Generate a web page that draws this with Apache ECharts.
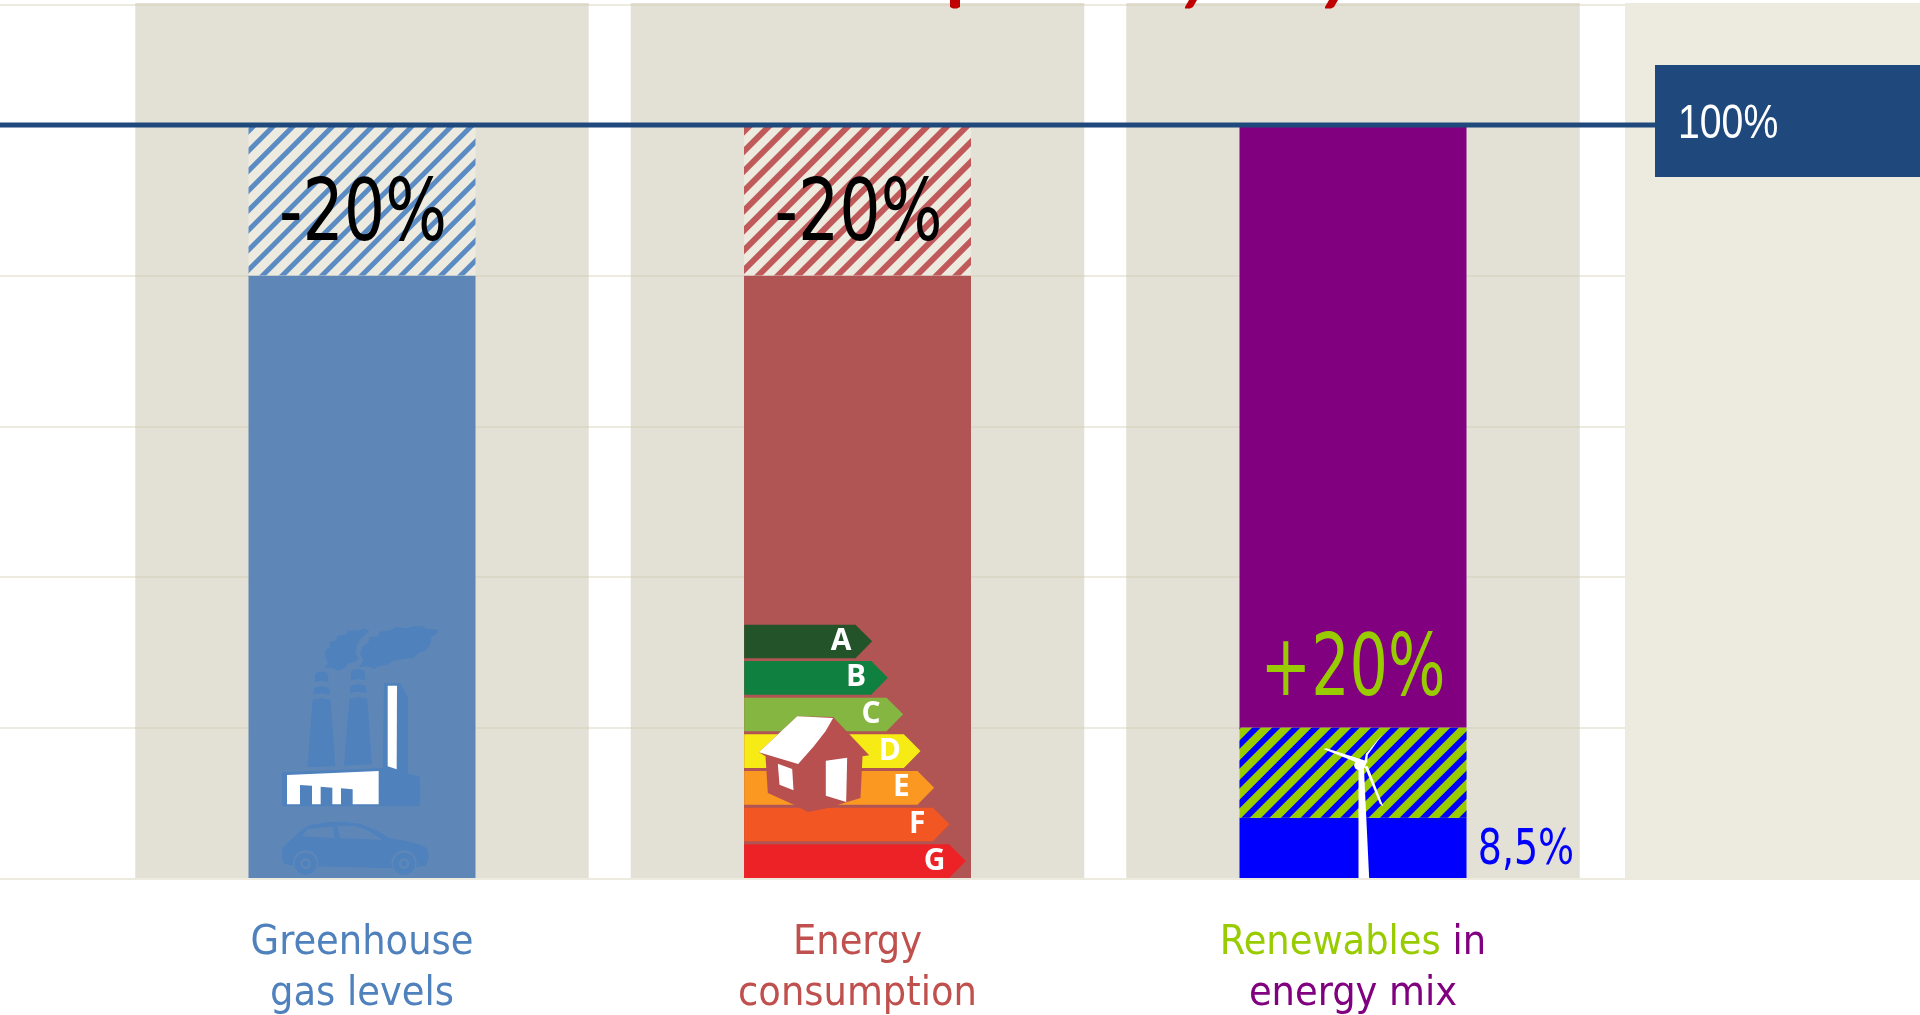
<!DOCTYPE html>
<html>
<head>
<meta charset="utf-8">
<style>html,body{margin:0;padding:0;background:#fff;overflow:hidden}#c{width:1920px;height:1015px}</style>
<script src="https://cdn.jsdelivr.net/npm/echarts@6/dist/echarts.min.js"></script>
</head>
<body>
<div id="c"></div>
<script>
const categories = ['Greenhouse gas levels', 'Energy consumption', 'Renewables in energy mix'];
const categoryText = ['{b|Greenhouse}\n{b|gas levels}', '{r|Energy}\n{r|consumption}', '{g|Renewables}{p| in}\n{p|energy mix}'];
const solidValues = [80, 80, 8];
const hatchValues = [20, 20, 12];
const topValues = [null, null, 80];
const solidLabels = ['', '', '8,5%'];
const hatchLabels = ['-20%', '-20%', ''];
const topLabels = ['', '', '+20%'];
const targetLine = [100, 100];
const targetLabel = '100%';
const energyClasses = ['A', 'B', 'C', 'D', 'E', 'F', 'G'];
const energyColors = ['#235329', '#0F8040', '#86B642', '#F6EB14', '#FB9822', '#F15623', '#ED2227'];

const BLUE = '#5E87B8', RED = '#B05454', PURE = '#0000FF', PURPLE = '#800080', LIME = '#99CC00';
const ICON_BLUE = '#4F81BD', HOUSE = '#B8504F', LIGHT = '#EDEADF', NAVY = '#1F497D';
const HUMAN = '"DejaVu Sans Condensed","DejaVu Sans",sans-serif';

function hatch(stripe, base, on, off) {
  return { color: base, decal: { symbol: 'rect', symbolSize: 1, dashArrayX: [1, 0], dashArrayY: [on, off], rotation: -Math.PI / 4, color: stripe } };
}
const hatchStyles = [hatch('#5B8BC3', LIGHT, 4.5, 9), hatch('#C0595A', LIGHT, 6, 7.5), hatch(PURE, LIME, 5.5, 8)];
const solidColors = [BLUE, RED, PURE];

const chart = echarts.init(document.getElementById('c'), null, { renderer: 'canvas' });
const bottom = 136.7, pxPerUnit = 7.533;
const labelRich = c => ({ color: c, fontFamily: HUMAN, fontSize: 41, lineHeight: 51 });

chart.setOption({
  animation: false,
  backgroundColor: '#fff',
  grid: [
    { left: 0, width: 1655, top: 5, bottom: bottom },
    { left: 114.25, width: 1486.5, top: 3, bottom: bottom }
  ],
  xAxis: [
    { type: 'category', gridIndex: 0, data: ['start', 'end'], boundaryGap: false, show: false },
    { type: 'category', gridIndex: 1, data: categories, show: false },
    { type: 'category', gridIndex: 1, data: categories, position: 'bottom',
      axisLine: { show: false }, axisTick: { show: false },
      axisLabel: {
        interval: 0, margin: 40,
        formatter: (v, i) => categoryText[i],
        rich: { b: labelRich('#4F81BD'), r: labelRich('#C0504D'), g: labelRich(LIME), p: labelRich(PURPLE) }
      } }
  ],
  yAxis: [
    { type: 'value', gridIndex: 0, min: 0, max: (878.3 - 5) / pxPerUnit, interval: 20,
      axisLine: { show: false }, axisTick: { show: false }, axisLabel: { show: false },
      splitLine: { show: true, lineStyle: { color: LIGHT, width: 2 } } },
    { type: 'value', gridIndex: 1, min: 0, max: (878.3 - 3) / pxPerUnit, interval: 20, show: false, splitLine: { show: false } }
  ],
  series: [
    { type: 'bar', xAxisIndex: 1, yAxisIndex: 1, z: 1, barWidth: 453.5, silent: true,
      data: categories.map(() => (878.3 - 3) / pxPerUnit),
      itemStyle: { color: 'rgba(204,200,179,0.55)' } },
    { type: 'bar', xAxisIndex: 2, yAxisIndex: 1, z: 2, stack: 's', barWidth: 227,
      data: solidValues.map((v, i) => ({ value: v, itemStyle: { color: solidColors[i] } })) },
    { type: 'bar', xAxisIndex: 2, yAxisIndex: 1, z: 2, stack: 's', barWidth: 227,
      data: hatchValues.map((v, i) => ({ value: v, itemStyle: hatchStyles[i] })) },
    { type: 'bar', xAxisIndex: 2, yAxisIndex: 1, z: 2, stack: 's', barWidth: 227,
      data: topValues, itemStyle: { color: PURPLE } },
    { type: 'line', xAxisIndex: 0, yAxisIndex: 0, z: 5, symbol: 'none', data: targetLine,
      lineStyle: { color: NAVY, width: 5 } }
  ]
});

function pts(s) {
  const n = s.trim().split(/\s+/).map(Number), out = [];
  for (let i = 0; i < n.length; i += 2) out.push([n[i], n[i + 1]]);
  return out;
}
const poly = (s, fill) => ({ type: 'polygon', z: 10, shape: { points: pts(s) }, style: { fill } });
const circ = (cx, cy, r, fill) => ({ type: 'circle', z: 10, shape: { cx, cy, r }, style: { fill } });
const anchor = (i, v) => chart.convertToPixel({ xAxisIndex: 2, yAxisIndex: 1 }, [i, v || 0]);

const [c1, base] = anchor(0), [c2] = anchor(1), [c3] = anchor(2);

function valueText(text, x, y, size, fill, sx) {
  return { type: 'text', z: 12, x, y, scaleX: sx, style: { text, fill, align: 'center', verticalAlign: 'middle', font: size + 'px ' + HUMAN } };
}
const valueTexts = [];
hatchLabels.forEach((t, i) => {
  if (!t) return;
  const [x, y] = anchor(i, solidValues[i] + hatchValues[i] / 2);
  valueTexts.push(valueText(t, x + 1, y + 18, 85, '#000', 0.85));
});
topLabels.forEach((t, i) => {
  if (!t) return;
  const [x, y] = anchor(i, solidValues[i] + hatchValues[i]);
  valueTexts.push(valueText(t, x, y - 54, 85, LIME, 0.79));
});
solidLabels.forEach((t, i) => {
  if (!t) return;
  const [x, y] = anchor(i, solidValues[i] / 2);
  valueTexts.push(valueText(t, x + 173, y + 3, 49, PURE, 0.86));
});

const [lineEndX, lineY] = chart.convertToPixel({ xAxisIndex: 0, yAxisIndex: 0 }, [1, targetLine[1]]);
const targetBox = [
  { type: 'rect', z: 6, shape: { x: lineEndX, y: lineY - 60, width: 1920 - lineEndX, height: 112 }, style: { fill: NAVY } },
  { type: 'text', z: 7, x: lineEndX + 23, y: lineY - 1, scaleX: 0.8, style: { text: targetLabel, fill: '#fff', align: 'left', verticalAlign: 'middle', font: '49px "Liberation Sans",sans-serif' } }
];

const factory = { type: 'group', x: c1 - 132, y: base - 278.3, scaleX: 1 / 3, scaleY: 1 / 3, children: [
  poly('282 205 294 188 284 170 287 150 300 145 298 128 318 122 322 108 348 104 352 93 390 92 400 86 418 94 402 108 390 118 380 140 378 160 386 178 372 188 352 192 344 206 325 213 306 204', ICON_BLUE),
  poly('388 202 400 182 390 162 396 142 414 130 420 112 444 110 450 96 480 92 500 82 530 86 550 80 575 80 592 88 625 90 620 102 604 112 602 132 590 150 565 160 550 175 520 178 490 183 470 196 445 200 432 208 415 200', ICON_BLUE),
  poly('254 248 256 222 265 216 285 216 294 222 296 248 275 243', ICON_BLUE),
  poly('250 285 252 265 275 260 298 265 300 285 275 281', ICON_BLUE),
  poly('232 503 248 300 275 295 302 300 316 500', ICON_BLUE),
  poly('362 242 364 215 374 209 394 209 404 215 406 242 385 238', ICON_BLUE),
  poly('360 280 361 258 385 254 408 258 410 280 385 276', ICON_BLUE),
  poly('342 498 358 297 385 291 412 297 426 494', ICON_BLUE),
  poly('462 250 510 250 534 295 534 522 570 532 570 620 156 620 156 518 458 505', ICON_BLUE),
  poly('171 526 446 514 446 614 368 614 368 569 333 566 333 614 307 614 307 564 272 561 272 614 246 614 246 558 210 556 210 614 171 614', '#fff'),
  poly('473 258 501 258 500 509 473 500', '#fff'),
  poly('156 745 215 690 240 676 290 668 340 666 390 672 440 692 480 716 530 724 570 735 590 745 597 770 588 798 550 803 490 806 260 800 190 798 162 792 156 775', ICON_BLUE),
  poly('216 710 235 687 310 681 314 716', BLUE),
  poly('330 716 322 679 370 678 410 690 458 720', BLUE),
  circ(227, 790, 38, BLUE), circ(227, 792, 33, ICON_BLUE), circ(227, 792, 16, BLUE), circ(227, 792, 9, ICON_BLUE),
  circ(522, 790, 38, BLUE), circ(522, 792, 33, ICON_BLUE), circ(522, 792, 16, BLUE), circ(522, 792, 9, ICON_BLUE)
] };

const rowTop = [45, 154, 264, 374, 484, 594, 704];
const bodyEnd = [375, 422, 468, 520, 561, 607, 656];
const letterX = [332, 377, 422, 478, 513, 560, 612];
const arrowKids = [];
energyClasses.forEach((k, i) => {
  const t = rowTop[i], b = t + 101, e = bodyEnd[i];
  arrowKids.push(poly(`41 ${t} ${e} ${t} ${e + 50} ${t + 50} ${e} ${b} 41 ${b}`, energyColors[i]));
  arrowKids.push({ type: 'text', z: 11, style: { text: k, x: letterX[i], y: t + 50, fill: '#fff', align: 'center', verticalAlign: 'middle',
    font: 'bold 90px "Open Sans",sans-serif' } });
});
const houseKids = [
  poly('85 428 200 320 308 322 416 437 396 440 390 565 288 596 232 607 190 585 112 550 105 440', HOUSE),
  poly('85 428 200 320 308 325 285 365 250 410 203 463', '#fff'),
  poly('142 462 185 478 189 542 147 525', '#fff'),
  poly('286 453 350 444 347 577 286 558', '#fff')
];
houseKids.forEach(e => { e.z = 12; });
const energy = { type: 'group', x: c2 - 127, y: base - 268.3, scaleX: 1 / 3, scaleY: 1 / 3, children: arrowKids.concat(houseKids) };

const turbine = { type: 'group', x: c3 - 132.5, y: base - 258.3, scaleX: 1 / 3, scaleY: 1 / 3, children: [
  poly('414 440 430 440 446 775 414 775', '#fff'),
  circ(415, 437, 14, '#fff'),
  poly('308 388 318 386 440 425 432 446 400 425', '#fff'),
  poly('486 344 442 405 440 430 432 425 436 402', '#fff'),
  poly('488 560 442 440 432 440 478 552', '#fff')
] };

const titleCut = [
  '950 0 960 0 960 7 957 8.5 953 8.5 950 7',
  '1189 0 1197 0 1193 7 1190 8.5 1185 8.5 1185 7',
  '1329 0 1338 0 1334 7 1331 8.5 1325 8.5 1325 7'
].map(s => poly(s, '#C00000'));

chart.setOption({ graphic: { elements: [
  { type: 'rect', z: 1, shape: { x: 1625, y: 3, width: 295, height: 877 }, style: { fill: LIGHT }, silent: true },
  factory, energy, turbine
].concat(titleCut, valueTexts, targetBox) } });
</script>
</body>
</html>
